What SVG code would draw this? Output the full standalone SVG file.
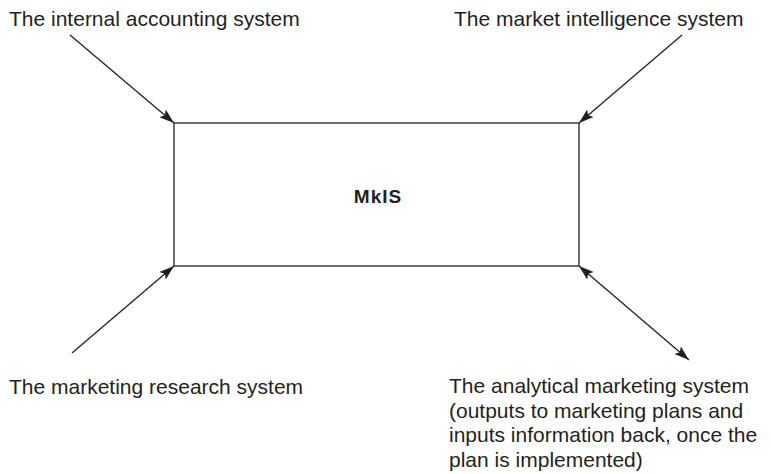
<svg xmlns="http://www.w3.org/2000/svg" width="771" height="474" viewBox="0 0 771 474">
<defs>
<marker id="ah" viewBox="0 0 15 10" refX="15" refY="5" markerWidth="15" markerHeight="10" markerUnits="userSpaceOnUse" orient="auto-start-reverse">
<path d="M0,0 L15,5 L0,10 L3,5 z" fill="#231f20"/>
</marker>
</defs>
<style>
text{font-family:"Liberation Sans",Arial,sans-serif;font-size:21px;fill:#231f20}
.b{font-weight:bold;font-size:19px;letter-spacing:1px}
.c{stroke:#231f20;stroke-width:1.3;fill:none}
</style>
<rect width="771" height="474" fill="#fff"/>
<g id="mkis">
<rect x="174" y="123" width="405" height="143" fill="#fff" stroke="#231f20" stroke-width="1.3"/>
<text class="b" x="378" y="203" text-anchor="middle">MkIS</text>
</g>
<g id="internal"><text x="9" y="26">The internal accounting system</text></g>
<g id="intelligence"><text x="454" y="26">The market intelligence system</text></g>
<g id="research"><text x="9" y="394">The marketing research system</text></g>
<g id="analytical">
<text x="449" y="393">The analytical marketing system</text>
<text x="449" y="417.5">(outputs to marketing plans and</text>
<text x="449" y="442">inputs information back, once the</text>
<text x="449" y="466.5">plan is implemented)</text>
</g>
<g id="connectors" class="c">
<line x1="70" y1="35" x2="174" y2="123" marker-end="url(#ah)"/>
<line x1="682" y1="35" x2="579" y2="123" marker-end="url(#ah)"/>
<line x1="72" y1="353" x2="174" y2="266" marker-end="url(#ah)"/>
<line x1="579" y1="266" x2="689" y2="360" marker-start="url(#ah)" marker-end="url(#ah)"/>
</g>
</svg>
